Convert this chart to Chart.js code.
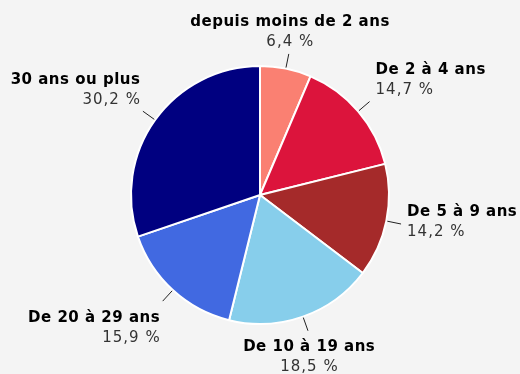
<!DOCTYPE html>
<html lang="fr">
<head>
<meta charset="utf-8">
<script src="https://cdn.jsdelivr.net/npm/chart.js@4/dist/chart.umd.min.js"></script>
<style>
  html, body { margin: 0; padding: 0; background: #f4f4f4; }
  #wrap { width: 520px; height: 374px; }
</style>
</head>
<body>
<div id="wrap"><canvas id="ancienneteChart" width="520" height="374"></canvas></div>
<script>
const categories = ['depuis moins de 2 ans', 'De 2 à 4 ans', 'De 5 à 9 ans', 'De 10 à 19 ans', 'De 20 à 29 ans', '30 ans ou plus'];
const shares = [6.4, 14.7, 14.2, 18.5, 15.9, 30.2];
const sliceColors = ['#fa8072', '#dc143c', '#a52a2a', '#87ceeb', '#4169e1', '#000080'];

const fontFamily = '"DejaVu Sans", sans-serif';

function formatShare(v) {
  return v.toFixed(1).replace('.', ',') + ' %';
}

// letterSpacing leaves a trailing gap, shift right/centered text back by it
function drawSpaced(ctx, text, x, y, align, spacing) {
  ctx.letterSpacing = spacing + 'px';
  let dx = 0;
  if (align === 'right') dx = spacing;
  else if (align === 'center') dx = spacing / 2;
  ctx.fillText(text, x + dx, y);
}

// leader ticks + two-line labels around the pie
const outsideLabels = {
  id: 'outsideLabels',
  afterDatasetsDraw(chart) {
    const ctx = chart.ctx;
    const meta = chart.getDatasetMeta(0);
    ctx.save();
    meta.data.forEach((arc, i) => {
      const { x, y, startAngle, endAngle, outerRadius } = arc.getProps(['x', 'y', 'startAngle', 'endAngle', 'outerRadius'], true);
      const mid = (startAngle + endAngle) / 2;
      const cx = Math.cos(mid), cy = Math.sin(mid);
      const x0 = x + cx * (outerRadius + 1), y0 = y + cy * (outerRadius + 1);
      const x1 = x + cx * (outerRadius + 15), y1 = y + cy * (outerRadius + 15);
      ctx.strokeStyle = '#222';
      ctx.lineWidth = 1;
      ctx.beginPath();
      ctx.moveTo(x0, y0);
      ctx.lineTo(x1, y1);
      ctx.stroke();

      let align, tx;
      if (Math.abs(cx) < 0.4) { align = 'center'; tx = x1 + 1; }
      else if (cx > 0) { align = 'left'; tx = x1 + 6; }
      else { align = 'right'; tx = x1 - 3; }

      const lh = 20;
      let top;
      if (cy < -0.5) top = y1 - 2 * lh + 1;
      else if (cy > 0.5) top = y1 + 9;
      else top = y1 - lh + 1;

      ctx.textAlign = align;
      ctx.textBaseline = 'top';
      ctx.fillStyle = '#000';
      ctx.font = 'bold 15px ' + fontFamily;
      drawSpaced(ctx, categories[i], tx, top, align, 0.5);
      ctx.fillStyle = '#333';
      ctx.font = '15px ' + fontFamily;
      drawSpaced(ctx, formatShare(shares[i]), tx, top + lh, align, 1);
    });
    ctx.restore();
  }
};

const chart = new Chart(document.getElementById('ancienneteChart'), {
  type: 'pie',
  data: {
    labels: categories,
    datasets: [{
      data: shares,
      backgroundColor: sliceColors,
      borderColor: '#ffffff',
      borderWidth: 2
    }]
  },
  options: {
    responsive: false,
    animation: false,
    layout: { padding: { top: 65, bottom: 49, left: 120, right: 120 } },
    plugins: {
      legend: { display: false },
      tooltip: { enabled: false }
    }
  },
  plugins: [outsideLabels]
});
</script>
</body>
</html>
